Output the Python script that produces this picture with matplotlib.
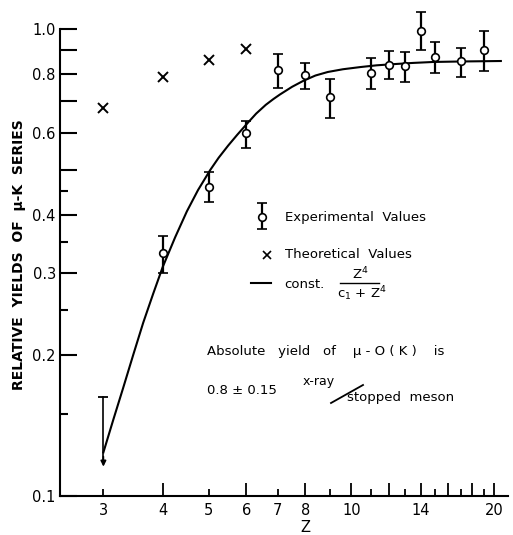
import matplotlib
matplotlib.use("Agg")
import matplotlib.pyplot as plt
from matplotlib.ticker import FixedLocator, FixedFormatter, NullFormatter

# experimental relative yields (Z, value, top of bar, bottom of bar)
exp_z = [4, 5, 6, 7, 8, 9, 11, 12, 13, 14, 15, 17, 19]
exp_y = [0.331, 0.459, 0.599, 0.817, 0.797, 0.715, 0.805, 0.837, 0.833, 0.99, 0.871, 0.854, 0.902]
exp_hi = [0.360, 0.494, 0.635, 0.884, 0.846, 0.782, 0.867, 0.897, 0.893, 1.087, 0.938, 0.911, 0.99]
exp_lo = [0.300, 0.426, 0.556, 0.748, 0.744, 0.645, 0.744, 0.782, 0.770, 0.902, 0.805, 0.790, 0.813]

# upper limit at Z = 3
lim_z = [3]
lim_top = [0.163]
lim_tip = [0.114]

# theoretical values
theo_z = [3, 4, 5, 6]
theo_y = [0.677, 0.789, 0.858, 0.906]

# fitted curve const * Z^4 / (c1 + Z^4)
curve_z = [3.0, 3.15, 3.3, 3.47, 3.64, 3.82, 4.0, 4.25, 4.5, 4.75, 5.04, 5.25, 5.5, 5.75,
           6.06, 6.3, 6.6, 6.85, 7.07, 7.5, 7.93, 8.4, 8.92, 9.6, 10.46, 11.3, 12.29,
           13.5, 14.9, 17.0, 20.67]
curve_y = [0.124, 0.146, 0.170, 0.201, 0.235, 0.271, 0.309, 0.358, 0.407, 0.452, 0.499,
           0.530, 0.563, 0.594, 0.631, 0.659, 0.688, 0.708, 0.724, 0.752, 0.775, 0.795,
           0.809, 0.820, 0.829, 0.836, 0.841, 0.846, 0.850, 0.852, 0.854]

# tick setup
x_major = [4, 6, 8, 10, 12, 14, 16, 18, 20]
x_major_lab = ['4', '6', '8', '10', '', '14', '', '', '20']
x_minor = [3, 5, 7, 9, 11, 13, 15, 17, 19]
x_minor_lab = ['3', '5', '7', '', '', '', '', '', '']
y_major = [0.1, 0.2, 0.3, 0.4, 0.5, 0.6, 0.7, 0.8, 0.9, 1.0]
y_major_lab = ['0.1', '0.2', '0.3', '0.4', '', '0.6', '', '0.8', '', '1.0']
y_minor = [0.15, 0.25, 0.35, 0.45]

W, H = 513, 535
fig = plt.figure(figsize=(W / 100, H / 100), dpi=100)
ax = fig.add_axes([60 / W, 39 / H, 448 / W, 467 / H])
ax.set_xscale('log')
ax.set_yscale('log')
ax.set_xlim(2.43, 21.4)
ax.set_ylim(0.1, 1.0)


def axp(px, py):
    # pixel position in the picture -> axes fraction
    return (px - 60) / 448, (496 - py) / 467


# curve
ax.plot(curve_z, curve_y, color='black', lw=1.5, clip_on=False, solid_joinstyle='round')

# experimental points
yerr = [[y - lo for y, lo in zip(exp_y, exp_lo)], [hi - y for y, hi in zip(exp_y, exp_hi)]]
eb = ax.errorbar(exp_z, exp_y, yerr=yerr, fmt='o', ms=5.5, mfc='white', mec='black',
                 mew=1.2, ecolor='black', elinewidth=1.6, capsize=3.6, capthick=1.6, zorder=3)
eb[0].set_clip_on(False)
for c in eb[1]:
    c.set_clip_on(False)
for c in eb[2]:
    c.set_clip_on(False)

# upper limit at Z=3
ax.plot([lim_z[0], lim_z[0]], [lim_top[0], lim_tip[0] * 1.03], color='black', lw=1.2)
ax.plot(lim_z, lim_top, marker='_', ms=7, mew=1.3, color='black')
ax.annotate('', xy=(lim_z[0], lim_tip[0]), xytext=(lim_z[0], lim_tip[0] * 1.08),
            arrowprops=dict(arrowstyle='-|>', color='black', lw=1.2, mutation_scale=8))

# theoretical values
ax.plot(theo_z, theo_y, 'x', color='black', ms=6.5, mew=1.4, clip_on=False)

# axes styling
for s in ['top', 'right']:
    ax.spines[s].set_visible(False)
for s in ['left', 'bottom']:
    ax.spines[s].set_linewidth(1.5)

ax.xaxis.set_major_locator(FixedLocator(x_major))
ax.xaxis.set_major_formatter(FixedFormatter(x_major_lab))
ax.xaxis.set_minor_locator(FixedLocator(x_minor))
ax.xaxis.set_minor_formatter(FixedFormatter(x_minor_lab))
ax.yaxis.set_major_locator(FixedLocator(y_major))
ax.yaxis.set_major_formatter(FixedFormatter(y_major_lab))
ax.yaxis.set_minor_locator(FixedLocator(y_minor))
ax.yaxis.set_minor_formatter(NullFormatter())

ax.tick_params(axis='x', which='major', direction='in', length=9.5, width=1.3, pad=5, labelsize=10.5)
ax.tick_params(axis='x', which='minor', direction='in', length=5, width=1.3, pad=5, labelsize=10.5)
ax.tick_params(axis='y', which='major', direction='in', length=12, width=1.5, pad=3, labelsize=10.5)
ax.tick_params(axis='y', which='minor', direction='in', length=6, width=1.5)

# legend / annotations
fs = 9.5
ax.errorbar([axp(262, 217)[0]], [axp(262, 217)[1]],
            yerr=[[axp(262, 217)[1] - axp(262, 229)[1]], [axp(262, 203)[1] - axp(262, 217)[1]]],
            fmt='o', ms=5.5, mfc='white', mec='black', mew=1.2, ecolor='black',
            elinewidth=1.6, capsize=3.6, capthick=1.6, transform=ax.transAxes)
ax.text(*axp(285, 217), 'Experimental  Values', transform=ax.transAxes, fontsize=fs, va='center')
ax.plot(*axp(267, 255), 'x', color='black', ms=5.5, mew=1.2, transform=ax.transAxes)
ax.text(*axp(285, 255), 'Theoretical  Values', transform=ax.transAxes, fontsize=fs, va='center')
x0, y0 = axp(251, 283)
x1, _ = axp(271, 283)
ax.plot([x0, x1], [y0, y0], color='black', lw=1.5, transform=ax.transAxes)
ax.text(*axp(284, 284), 'const.', transform=ax.transAxes, fontsize=fs, va='center')
ax.text(*axp(360, 274), 'Z$^4$', transform=ax.transAxes, fontsize=fs, va='center', ha='center')
x0, y0 = axp(340, 283)
x1, _ = axp(379, 283)
ax.plot([x0, x1], [y0, y0], color='black', lw=1.0, transform=ax.transAxes)
ax.text(*axp(362, 294), 'c$_1$ + Z$^4$', transform=ax.transAxes, fontsize=fs, va='center', ha='center')

ax.text(*axp(207, 352), 'Absolute   yield   of    \u03bc - O ( K )    is', transform=ax.transAxes,
        fontsize=fs, va='center')
ax.text(*axp(207, 391), '0.8 \u00b1 0.15', transform=ax.transAxes, fontsize=fs, va='center')
ax.text(*axp(303, 381), 'x-ray', transform=ax.transAxes, fontsize=fs - 0.5, va='center')
x0, y0 = axp(331, 403)
x1, y1 = axp(363, 385)
ax.plot([x0, x1], [y0, y1], color='black', lw=1.3, transform=ax.transAxes)
ax.text(*axp(347, 398), 'stopped  meson', transform=ax.transAxes, fontsize=fs, va='center')

fig.text(19 / W, 1 - 255 / H, 'RELATIVE  YIELDS  OF  \u03bc-K  SERIES', rotation=90,
         ha='center', va='center', fontsize=10, fontweight='bold')
fig.text(305 / W, 1 - 527 / H, 'Z', ha='center', va='center', fontsize=10.5)

fig.savefig('out.png', dpi=100)
